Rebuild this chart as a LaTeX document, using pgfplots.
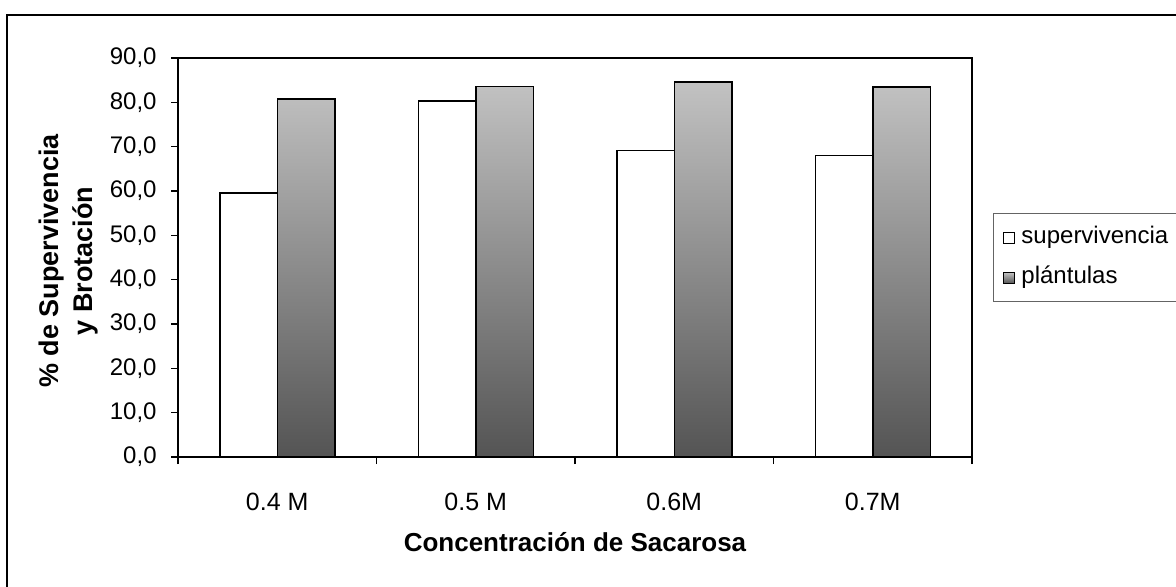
\documentclass[border=0pt]{standalone}
\usepackage{pgfplots}
\pgfplotsset{compat=1.18}
\usepackage{fontspec}
\setmainfont{Liberation Sans}

\definecolor{barlight}{RGB}{194,194,194}
\definecolor{bardark}{RGB}{84,84,84}
\definecolor{legendframe}{RGB}{100,100,100}

\begin{document}
\begin{tikzpicture}
\begin{axis}[
  scale only axis, width=397pt, height=199.5pt,
  ymin=0, ymax=90, ytick={0,10,...,90},
  xmin=-0.5, xmax=3.5,
  xtick={0,1,2,3},
  xticklabels={0.4 M,0.5 M,0.6M,0.7M},
  minor xtick={-0.5,0.5,1.5,2.5,3.5},
  tick align=outside, tick pos=left,
  major tick length=3.5pt, minor tick length=3.5pt,
  major x tick style={draw=none},
  every tick/.style={black, line width=0.6pt},
  axis line style={line width=0.6pt},
  ybar=0pt, bar width=28.75pt,
  /pgf/number format/assume math mode=true,
  yticklabel={\pgfmathprintnumber[fixed, fixed zerofill, precision=1, use comma]{\tick}},
  yticklabel style={font=\fontsize{12}{14}\selectfont, anchor=east, inner sep=0pt, xshift=-7pt},
  xticklabel style={font=\fontsize{12.5}{15}\selectfont, anchor=base, inner sep=0pt, yshift=-23pt},
  xlabel={Concentración de Sacarosa},
  xlabel style={font=\bfseries\fontsize{13}{16}\selectfont, at={(axis description cs:0.5,-0.237)}, anchor=base},
  ylabel={\% de Supervivencia\\y Brotación},
  ylabel style={font=\bfseries\fontsize{13.5}{17}\selectfont, align=center, at={(axis description cs:-0.1385,0.491)}, anchor=center},
  legend style={draw=legendframe, line width=0.5pt, at={(1.0264,0.499)}, anchor=west,
    font=\fontsize{12}{14}\selectfont, inner xsep=5pt, inner ysep=6.5pt, row sep=9pt,
    nodes={inner xsep=1.5pt, inner ysep=0pt, text height=8.5pt, text depth=2.5pt},
    /tikz/every odd column/.append style={column sep=1.5pt}},
  legend cell align=left,
]
\addplot[draw=black, line width=0.75pt, fill=white,
  legend image code/.code={\draw[black, line width=0.5pt, fill=white] (0pt,-2.75pt) rectangle (5.5pt,2.75pt);}]
  coordinates {(0,59.5) (1,80.3) (2,69.1) (3,68.0)};
\addplot[draw=black, line width=0.75pt, top color=barlight, bottom color=bardark,
  legend image code/.code={\draw[black, line width=0.5pt, top color=barlight, bottom color=bardark] (0pt,-2.75pt) rectangle (5.5pt,2.75pt);}]
  coordinates {(0,80.8) (1,83.6) (2,84.6) (3,83.5)};
\legend{supervivencia, plántulas}
\coordinate (sw) at (rel axis cs:0,0);
\end{axis}
% page area and chart frame, measured from the plot area's lower left corner
\pgfresetboundingbox
\useasboundingbox ([shift={(-89pt,-64.5pt)}]sw) rectangle ([shift={(499pt,228.5pt)}]sw);
\draw[line width=0.6pt] ([shift={(-85.5pt,221pt)}]sw) rectangle ([shift={(520pt,-80pt)}]sw);
\end{tikzpicture}
\end{document}
